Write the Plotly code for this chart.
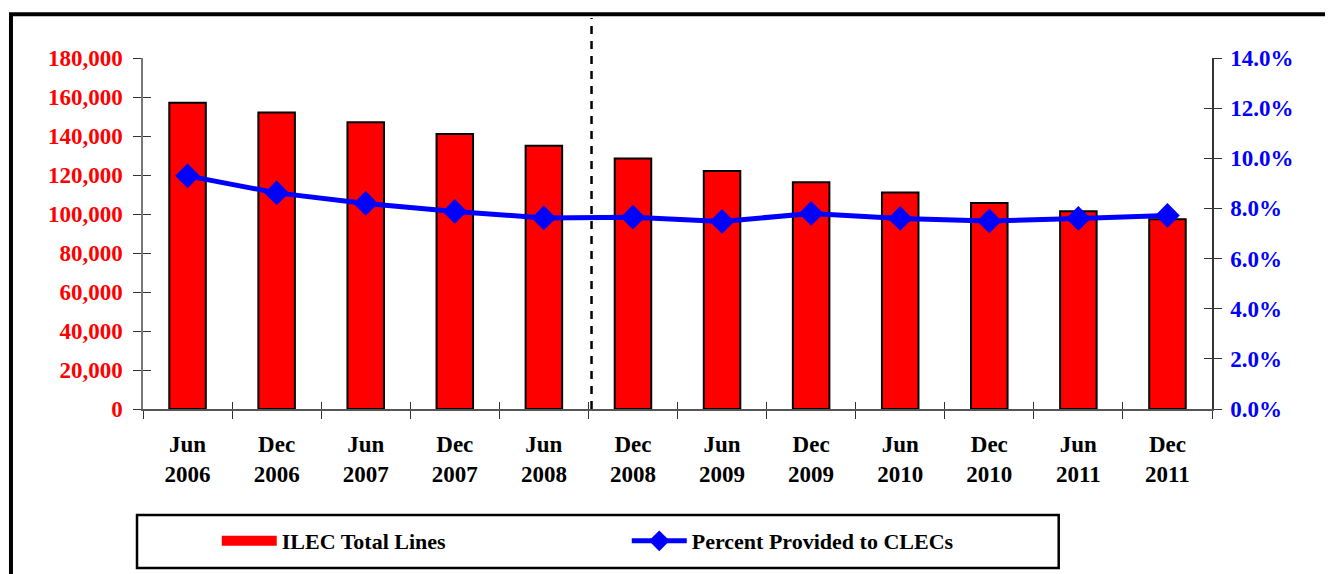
import plotly.graph_objects as go

periods = ["Jun<br>2006", "Dec<br>2006", "Jun<br>2007", "Dec<br>2007", "Jun<br>2008", "Dec<br>2008",
           "Jun<br>2009", "Dec<br>2009", "Jun<br>2010", "Dec<br>2010", "Jun<br>2011", "Dec<br>2011"]
ilec_lines = [157000, 152000, 147000, 141000, 135000, 128500,
              122000, 116300, 111000, 105600, 101400, 97300]
pct_clec = [9.3, 8.62, 8.2, 7.88, 7.62, 7.65, 7.48, 7.8, 7.6, 7.5, 7.6, 7.72]

FONT = "Liberation Serif"

fig = go.Figure()
fig.add_trace(go.Bar(
    x=periods, y=ilec_lines, name="ILEC Total Lines", showlegend=False,
    marker=dict(color="#FF0000", line=dict(color="black", width=2)),
    width=0.41,
))
# legend-only entry: wide red swatch like the original
fig.add_trace(go.Scatter(
    x=[None], y=[None], name="ILEC Total Lines", mode="lines",
    line=dict(color="#FF0000", width=15),
))
fig.add_trace(go.Scatter(
    x=periods, y=pct_clec, name="Percent Provided to CLECs", yaxis="y2",
    mode="lines+markers",
    line=dict(color="#0000FF", width=5),
    marker=dict(symbol="diamond", size=19, color="#0000FF"),
))
# empty traces so the inner-tick overlay axes get drawn
for xa, ya in [("x", "y3"), ("x", "y4"), ("x2", "y")]:
    fig.add_trace(go.Scatter(x=[], y=[], xaxis=xa, yaxis=ya, showlegend=False, hoverinfo="skip"))

tickfont_base = dict(family=FONT, size=23, weight="bold")

# page body has an 8px margin, so the figure is 8px smaller and shifted
fig.update_layout(
    width=1325, height=566,
    margin=dict(l=135, r=121, t=50, b=165, autoexpand=False),
    paper_bgcolor="white", plot_bgcolor="white",
    showlegend=True,
    xaxis=dict(
        type="category", showgrid=False, showline=True, linecolor="#555", linewidth=1.5,
        ticks="outside", ticklen=8, tickcolor="#333", tickson="boundaries",
        tickfont=dict(color="black", **tickfont_base), range=[-0.5, 11.5],
        ticklabelstandoff=14,
    ),
    xaxis2=dict(
        overlaying="x", anchor="y", type="linear", range=[-0.5, 11.5],
        tickmode="linear", tick0=0.5, dtick=1, ticks="inside", ticklen=7,
        tickcolor="#333", showticklabels=False, showgrid=False, showline=False,
        zeroline=False,
    ),
    yaxis=dict(
        range=[0, 180000], dtick=20000, tickformat=",", showgrid=False, zeroline=False,
        showline=True, linecolor="#777", linewidth=1.5,
        ticks="outside", ticklen=8, tickcolor="#333",
        tickfont=dict(color="#FF0000", **tickfont_base), ticklabelstandoff=6,
    ),
    yaxis2=dict(
        overlaying="y", side="right", range=[0, 14], dtick=2, tickformat=".1f",
        ticksuffix="%", showgrid=False, zeroline=False,
        showline=True, linecolor="#333", linewidth=1.5,
        ticks="outside", ticklen=8, tickcolor="#333",
        tickfont=dict(color="#0000FF", **tickfont_base), ticklabelstandoff=4,
    ),
    yaxis3=dict(
        overlaying="y", side="left", anchor="x", range=[0, 180000], dtick=20000,
        ticks="inside", ticklen=8, tickcolor="#333", showticklabels=False,
        showgrid=False, zeroline=False, showline=False,
    ),
    yaxis4=dict(
        overlaying="y", side="right", anchor="x", range=[0, 14], dtick=2,
        ticks="inside", ticklen=8, tickcolor="#333", showticklabels=False,
        showgrid=False, zeroline=False, showline=False,
    ),
    legend=dict(
        orientation="h", x=0.069, xanchor="left", y=-0.376, yanchor="middle",
        font=dict(family=FONT, size=22, color="black", weight="bold"),
        bgcolor="rgba(0,0,0,0)", borderwidth=0, entrywidth=340, itemwidth=55,
    ),
    bargap=0.59,
)

# outer frame
fig.add_shape(type="rect", xref="paper", yref="paper",
              x0=-0.1235, x1=1.1105, y0=-0.49, y1=1.125,
              line=dict(color="black", width=4), fillcolor="rgba(0,0,0,0)", layer="below")
# legend box
fig.add_shape(type="rect", xref="paper", yref="paper",
              x0=-0.0056, x1=0.8566, y0=-0.453, y1=-0.302,
              line=dict(color="black", width=2.5), fillcolor="rgba(0,0,0,0)")
# dashed divider between Jun 2008 and Dec 2008
fig.add_shape(type="line", xref="x2", yref="paper", x0=4.535, x1=4.535, y0=0, y1=1.114,
              line=dict(color="black", width=2.5, dash="8px,7px"))

fig.write_html("out.html")
